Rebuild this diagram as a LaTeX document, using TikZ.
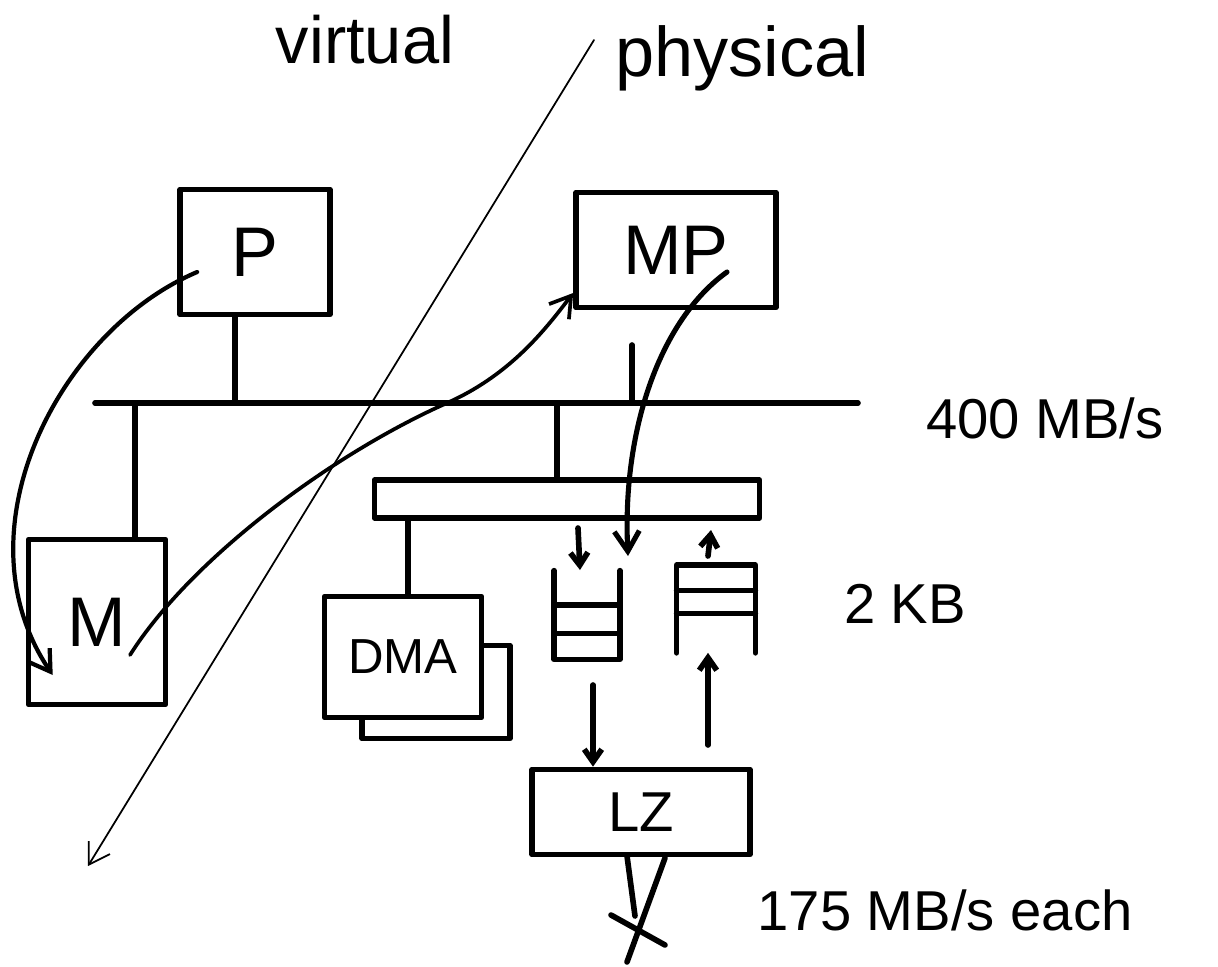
\documentclass[tikz,border=0pt]{standalone}
\usepackage{fontspec}
\setmainfont{Liberation Sans}
\usetikzlibrary{arrows.meta,calc}
\begin{document}
\begin{tikzpicture}[x=0.02cm,y=-0.02cm,
  line cap=round, line join=round,
  box/.style={draw, line width=3.2pt, fill=white, inner sep=0pt},
  stroke/.style={line width=3.2pt},
  thinline/.style={line width=1pt},
  arr/.style={-{Straight Barb[length=4mm,width=5mm]}},
  smallarr/.style={-{Straight Barb[length=2.5mm,width=3.5mm]}},
  big/.style={font=\fontsize{40}{44}\selectfont},
  mid/.style={font=\fontsize{32}{36}\selectfont},
  dmafont/.style={font=\fontsize{28}{32}\selectfont}]
\useasboundingbox (0,0) rectangle (1218,967);

% headings
\node[font=\fontsize{38}{42}\selectfont] (virt) at (365,40) {virtual};
\node[big] (phys) at (742,58) {physical};

% virtual / physical divider
\coordinate (divTop) at (594,40);
\coordinate (divBot) at (88,866);
\draw[thinline, arr] (divTop) -- (divBot);

% boxes
\node[box, big, minimum width=3cm, minimum height=2.5cm] (P) at (255,252) {P};
\node[box, big, minimum width=4cm, minimum height=2.3cm] (MP) at (676,250) {MP};
\node[box, big, minimum width=2.74cm, minimum height=3.3cm] (M) at (97,622) {M};
\node[box, minimum width=2.96cm, minimum height=1.86cm] (DMAback) at (436,692) {};
\node[box, dmafont, minimum width=3.14cm, minimum height=2.42cm] (DMA) at (403,657) {DMA};
\node[box, mid, minimum width=4.36cm, minimum height=1.7cm] (LZ) at (641,812) {LZ};
\node[box, minimum width=7.7cm, minimum height=0.76cm] (bar) at (567,499) {};

% 400 MB/s bus
\coordinate (busL) at (95,403);
\coordinate (busR) at (858,403);
\draw[stroke] (busL) -- (busR);
\node[mid] (busLabel) at (1045,418) {400 MB/s};

% stubs
\coordinate (busP) at (235,403);
\coordinate (busM) at (135,403);
\coordinate (busMP) at (632,403);
\coordinate (mpStubTop) at (632,345);
\coordinate (busBar) at (557,403);
\coordinate (dmaX) at (408,520);
\draw[stroke] (busP) -- (busP |- P.south);
\draw[stroke] (busM) -- (busM |- M.north);
\draw[stroke] (busMP) -- (mpStubTop);
\draw[stroke] (busBar) -- (busBar |- bar.north);
\draw[stroke] (dmaX |- bar.south) -- (dmaX |- DMA.north);

% buffers
\node[minimum width=1.3cm, minimum height=1.76cm, inner sep=0pt] (lbuf) at (587,615) {};
\node[minimum width=1.56cm, minimum height=1.74cm, inner sep=0pt] (rbuf) at (716,609) {};
\draw[stroke] (lbuf.north west) -- (lbuf.south west) -- (lbuf.south east) -- (lbuf.north east);
\draw[stroke] ($(lbuf.north west)!0.39!(lbuf.south west)$) -- ($(lbuf.north east)!0.39!(lbuf.south east)$);
\draw[stroke] ($(lbuf.north west)!0.71!(lbuf.south west)$) -- ($(lbuf.north east)!0.71!(lbuf.south east)$);
\draw[stroke] (rbuf.south west) -- (rbuf.north west) -- (rbuf.north east) -- (rbuf.south east);
\draw[stroke] ($(rbuf.north west)!0.29!(rbuf.south west)$) -- ($(rbuf.north east)!0.29!(rbuf.south east)$);
\draw[stroke] ($(rbuf.north west)!0.55!(rbuf.south west)$) -- ($(rbuf.north east)!0.55!(rbuf.south east)$);
\node[mid] (kb) at (905,604) {2 KB};

% small arrows at buffers
\coordinate (inA) at (578,528);
\coordinate (inB) at (580,570);
\coordinate (outA) at (708,556);
\coordinate (outB) at (711,530);
\draw[stroke, smallarr] (inA) -- (inB);
\draw[stroke, smallarr] (outA) -- (outB);

% buffers <-> LZ
\coordinate (dnA) at (593,685);
\coordinate (upA) at (708,745);
\draw[stroke, smallarr] (dnA) -- (dnA |- LZ.north);
\draw[stroke, smallarr] (upA) -- (upA |- rbuf.south);

% LZ output line with width mark
\coordinate (outTop) at (665,858);
\coordinate (outBot) at (627,962);
\coordinate (tickA) at (627,856);
\coordinate (tickB) at (635,916);
\coordinate (crossA) at (611,915);
\coordinate (crossB) at (665,945);
\draw[stroke] (outTop) -- (outBot);
\draw[stroke] (tickA) -- (tickB);
\draw[stroke] (crossA) -- (crossB);
\node[mid] (each) at (945,910) {175 MB/s each};

% curved data-flow arrows
\coordinate (pStart) at ($(P.west)+(20,20)$);
\coordinate (mEnd) at ($(M.west)+(27,53)$);
\draw[line width=2.4pt, arr] (pStart) .. controls (60,330) and (-45,530) .. (mEnd);

\coordinate (mStart) at ($(M.center)+(33,33)$);
\coordinate (mid1) at (447,403);
\coordinate (mpEnd) at ($(MP.west)+(0,43)$);
\draw[line width=2.1pt, arr] (mStart) .. controls (190,560) and (330,455) .. (mid1)
  .. controls (510,375) and (545,330) .. (mpEnd);

\coordinate (mpStart) at ($(MP.center)+(51,22)$);
\coordinate (lbufIn) at (628,556);
\draw[line width=2.9pt, arr] (mpStart) .. controls (660,320) and (622,430) .. (lbufIn);
\end{tikzpicture}
\end{document}
